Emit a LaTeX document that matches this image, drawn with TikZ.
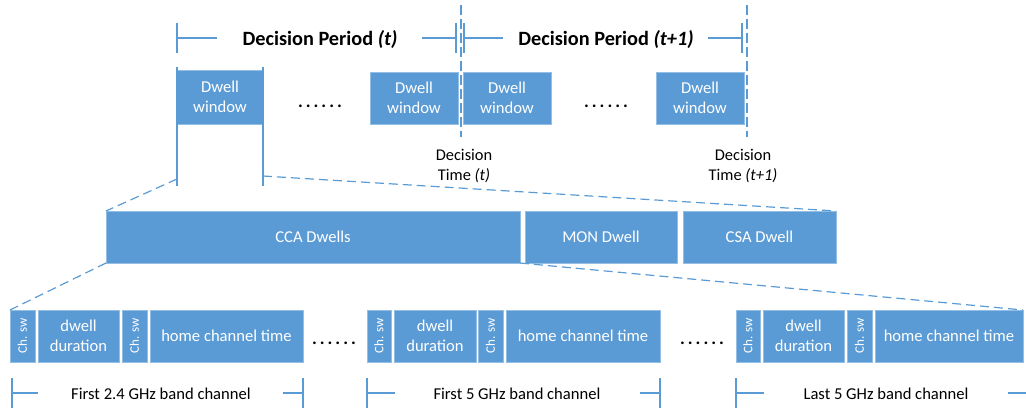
\documentclass[tikz,border=0pt]{standalone}
\usepackage{fontspec}
\usepackage{graphicx}
\setmainfont{Carlito}
\usetikzlibrary{shadows}
\definecolor{boxblue}{HTML}{5B9BD5}
\definecolor{lineblue}{HTML}{5B9BD5}
\newcommand\sixdots{.\kern3pt.\kern3pt.\kern3pt.\kern3pt.\kern3pt.}
\begin{document}
\begin{tikzpicture}[x=1pt,y=-1pt,
  blk/.style={fill=boxblue, draw=boxblue!65!white, line width=0.4pt, text=white,
    inner sep=0pt, outer sep=0pt, anchor=north west, align=center,
    font=\fontsize{16.6}{20.5}\selectfont,
    drop shadow={shadow xshift=1.2pt, shadow yshift=-1.2pt, opacity=0.22, fill=black}},
  swbox/.style={blk, font=\fontsize{13}{14}\selectfont},
  ln/.style={draw=lineblue, line width=1.2pt},
  dsh/.style={draw=lineblue, line width=1.2pt, dash pattern=on 9pt off 5pt},
  vdsh/.style={draw=lineblue, line width=1.2pt, dash pattern=on 10pt off 4pt},
  title/.style={font=\fontsize{20.3}{24}\selectfont\bfseries, inner sep=0pt, anchor=base},
  lbl/.style={font=\fontsize{16.6}{20.5}\selectfont, inner sep=0pt, anchor=base},
  dtime/.style={font=\fontsize{16.4}{20.5}\selectfont, inner sep=0pt, anchor=north, align=center},
  dots/.style={font=\fontsize{18}{20}\selectfont\bfseries, inner sep=0pt, anchor=base}
]
\useasboundingbox (0,0) rectangle (1026,416);

% ---------- top brackets ----------
\node[title] (p1) at (320,45) {Decision Period \textit{(t)}};
\node[title] (p2) at (606,45) {Decision Period \textit{(t+1)}};
\draw[ln] (177,23) -- (177,53);
\draw[ln] (177,38) -- (217,38);
\draw[ln] (422,38) -- (456,38);
\draw[ln] (456,23) -- (456,53);
\draw[ln] (464,23) -- (464,53);
\draw[ln] (464,38) -- (503,38);
\draw[ln] (708,38) -- (742,38);
\draw[ln] (742,23) -- (742,53);

% decision time dashed lines
\coordinate (dt1a) at (461,5);
\coordinate (dt1b) at (461,137);
\coordinate (dt2a) at (747,5);
\coordinate (dt2b) at (747,137);
\draw[vdsh] (dt1a) -- (dt1b);
\draw[vdsh] (dt2a) -- (dt2b);

% ---------- dwell windows ----------
\node[blk, minimum width=86pt, minimum height=54pt] (dw1) at (177,70) {Dwell\\window};
\node[blk, minimum width=88pt, minimum height=52pt] (dw2) at (370,72) {Dwell\\window};
\node[blk, minimum width=88pt, minimum height=52pt] (dw3) at (463,72) {Dwell\\window};
\node[blk, minimum width=88pt, minimum height=52pt] (dw4) at (656,72) {Dwell\\window};
\node[dots] (dotA) at (320,107) {\sixdots};
\node[dots] (dotB) at (606,107) {\sixdots};

\node[dtime] (dtt1) at (464,149) {Decision\\Time \textit{(t)}};
\node[dtime] (dtt2) at (743,149) {Decision\\Time \textit{(t+1)}};

% zoom lines from first dwell window
\coordinate (dwLb) at (177,186);
\coordinate (dwRb) at (263,186);
\coordinate (dwLd) at (177,179);
\coordinate (dwRd) at (263,176);
\draw[ln] ([yshift=3pt]dw1.north west) -- (dwLb);
\draw[ln] ([yshift=3pt]dw1.north east) -- (dwRb);

% ---------- middle row ----------
\node[blk, minimum width=414pt, minimum height=52pt] (cca) at (106,211) {CCA Dwells};
\node[blk, minimum width=152pt, minimum height=52pt] (mon) at (525,211) {MON Dwell};
\node[blk, minimum width=153pt, minimum height=52pt] (csa) at (683,211) {CSA Dwell};

\draw[dsh] (dwLd) -- (cca.north west);
\draw[dsh] (dwRd) -- (csa.north east);

% ---------- bottom row ----------
\node[swbox, minimum width=25pt, minimum height=52pt] (sw1) at (10,310) {\rotatebox{90}{Ch. sw}};
\node[blk, minimum width=81pt, minimum height=52pt] (dd1) at (38,310) {dwell\\duration};
\node[swbox, minimum width=25pt, minimum height=52pt] (sw2) at (122,310) {\rotatebox{90}{Ch. sw}};
\node[blk, minimum width=153pt, minimum height=52pt] (hc1) at (150,310) {home channel time};

\node[swbox, minimum width=24pt, minimum height=52pt] (sw3) at (367,310) {\rotatebox{90}{Ch. sw}};
\node[blk, minimum width=82pt, minimum height=52pt] (dd2) at (394,310) {dwell\\duration};
\node[swbox, minimum width=25pt, minimum height=52pt] (sw4) at (478,310) {\rotatebox{90}{Ch. sw}};
\node[blk, minimum width=154pt, minimum height=52pt] (hc2) at (506,310) {home channel time};

\node[swbox, minimum width=24pt, minimum height=52pt] (sw5) at (736,310) {\rotatebox{90}{Ch. sw}};
\node[blk, minimum width=81pt, minimum height=52pt] (dd3) at (763,310) {dwell\\duration};
\node[swbox, minimum width=25pt, minimum height=52pt] (sw6) at (847,310) {\rotatebox{90}{Ch. sw}};
\node[blk, minimum width=148pt, minimum height=52pt] (hc3) at (875,310) {home channel time};

\node[dots] (dotC) at (334,344) {\sixdots};
\node[dots] (dotD) at (702,344) {\sixdots};

\draw[dsh] (cca.south west) -- (sw1.north west);
\draw[dsh] (cca.south east) -- (hc3.north east);

% ---------- bottom brackets ----------
\node[lbl] (b1) at (161,399) {First 2.4 GHz band channel};
\node[lbl] (b2) at (517,399) {First 5 GHz band channel};
\node[lbl] (b3) at (886,399) {Last 5 GHz band channel};
\draw[ln] (12,378) -- (12,408);
\draw[ln] (12,393) -- (38,393);
\draw[ln] (283,393) -- (303,393);
\draw[ln] (303,378) -- (303,408);
\draw[ln] (367,378) -- (367,408);
\draw[ln] (367,393) -- (395,393);
\draw[ln] (640,393) -- (660,393);
\draw[ln] (660,378) -- (660,408);
\draw[ln] (736,378) -- (736,408);
\draw[ln] (736,393) -- (764,393);
\draw[ln] (1008,393) -- (1026,393);
\end{tikzpicture}
\end{document}
